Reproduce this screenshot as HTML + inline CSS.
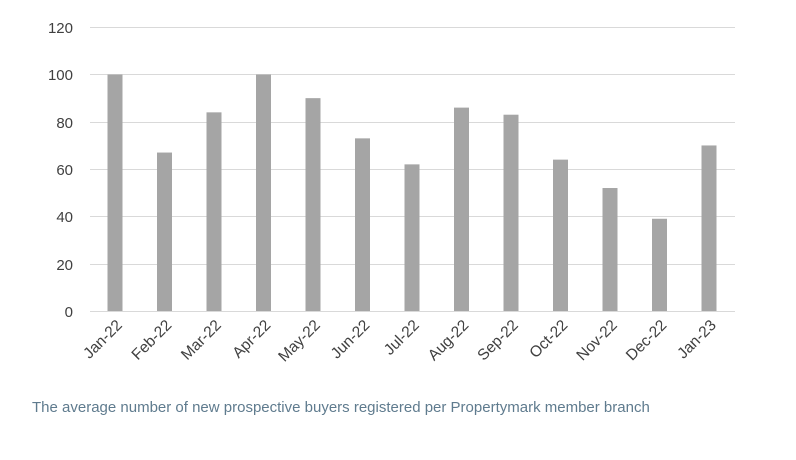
<!DOCTYPE html>
<html><head><style>body{margin:0;background:#fff}</style></head><body>
<svg width="796" height="455" xmlns="http://www.w3.org/2000/svg" font-family="Liberation Sans, sans-serif">
<g stroke="#d9d9d9" stroke-width="1">
<line x1="90" y1="27.5" x2="735" y2="27.5"/>
<line x1="90" y1="74.5" x2="735" y2="74.5"/>
<line x1="90" y1="122.5" x2="735" y2="122.5"/>
<line x1="90" y1="169.5" x2="735" y2="169.5"/>
<line x1="90" y1="216.5" x2="735" y2="216.5"/>
<line x1="90" y1="264.5" x2="735" y2="264.5"/>
</g>
<g font-size="15" fill="#404040" text-anchor="end">
<text x="73" y="33">120</text><text x="73" y="80">100</text><text x="73" y="128">80</text>
<text x="73" y="175">60</text><text x="73" y="222">40</text><text x="73" y="270">20</text><text x="73" y="317">0</text>
</g>
<g fill="#a5a5a5" id="bars"></g>
<line x1="90" y1="311.5" x2="735" y2="311.5" stroke="#d9d9d9"/>
<g id="labels" font-size="15.5" fill="#404040" text-anchor="end"></g>
<text x="32" y="412" font-size="15" fill="#5f7b8e">The average number of new prospective buyers registered per Propertymark member branch</text>
<script>
var v=[100,67,84,100,90,73,62,86,83,64,52,39,70];
var n=["Jan-22","Feb-22","Mar-22","Apr-22","May-22","Jun-22","Jul-22","Aug-22","Sep-22","Oct-22","Nov-22","Dec-22","Jan-23"];
var b=document.getElementById("bars"),l=document.getElementById("labels"),ns="http://www.w3.org/2000/svg";
for(var i=0;i<13;i++){var c=115+i*49.5,h=v[i]*2.365;
var r=document.createElementNS(ns,"rect");r.setAttribute("x",c-7.5);r.setAttribute("y",311-h);r.setAttribute("width",15);r.setAttribute("height",h);b.appendChild(r);
var t=document.createElementNS(ns,"text");t.setAttribute("transform","translate("+(c+8)+",326) rotate(-45)");t.textContent=n[i];l.appendChild(t);}
</script>
</svg>
</body></html>
